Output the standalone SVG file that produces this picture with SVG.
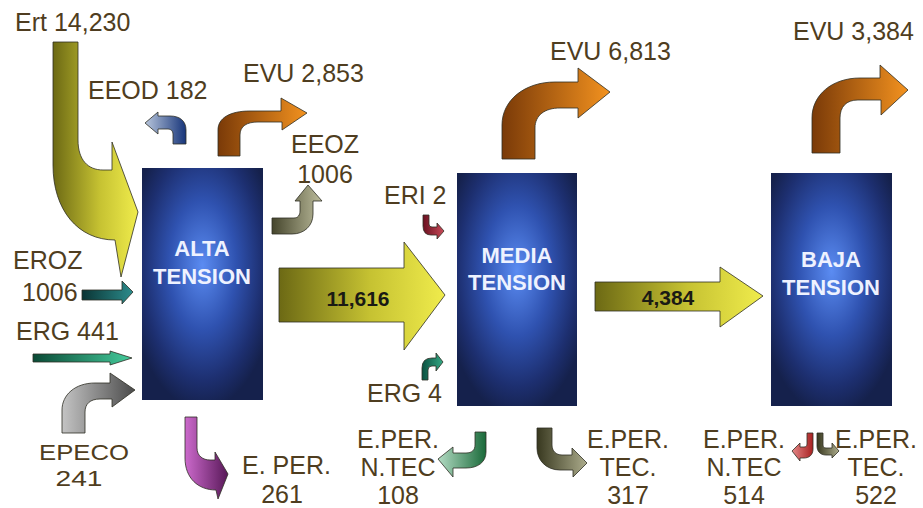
<svg xmlns="http://www.w3.org/2000/svg" width="923" height="508" viewBox="0 0 923 508">
<style>
.lbl{font-family:"Liberation Sans",Arial,sans-serif;font-size:25px;fill:#4f3d20}
.sm{font-size:22px}
.mid{text-anchor:middle}
.box-t{font-family:"Liberation Sans",Arial,sans-serif;font-size:22px;font-weight:bold;fill:#eef2ff;text-anchor:middle}
.val{font-family:"Liberation Sans",Arial,sans-serif;font-size:21px;font-weight:bold;fill:#1a1a14;text-anchor:middle}
.arr{stroke:#2e2e24;stroke-width:0.8;stroke-linejoin:miter}
</style>
<defs>
<radialGradient id="gBox" cx="0.5" cy="0.42" r="0.62" fx="0.5" fy="0.42">
<stop offset="0" stop-color="#5b8cf2"/>
<stop offset="0.45" stop-color="#2f52b0"/>
<stop offset="0.8" stop-color="#1d2f70"/>
<stop offset="1" stop-color="#15214c"/>
</radialGradient>
<linearGradient id="gYel" x1="0" y1="0" x2="1" y2="0">
<stop offset="0" stop-color="#6c6914"/><stop offset="0.55" stop-color="#c6c232"/><stop offset="1" stop-color="#f0ec4c"/>
</linearGradient>
<linearGradient id="gOra" x1="0" y1="0" x2="1" y2="0">
<stop offset="0" stop-color="#7a3a08"/><stop offset="1" stop-color="#f3921f"/>
</linearGradient>
<linearGradient id="gBlu" x1="1" y1="0" x2="0" y2="0">
<stop offset="0" stop-color="#17357a"/><stop offset="1" stop-color="#b8c6dc"/>
</linearGradient>
<linearGradient id="gOli" x1="0" y1="0" x2="1" y2="0">
<stop offset="0" stop-color="#45452c"/><stop offset="1" stop-color="#bcbc9c"/>
</linearGradient>
<linearGradient id="gRed" x1="0" y1="0" x2="1" y2="0">
<stop offset="0" stop-color="#6a1020"/><stop offset="1" stop-color="#c84a58"/>
</linearGradient>
<linearGradient id="gGrn" x1="0" y1="0" x2="1" y2="0">
<stop offset="0" stop-color="#0a5040"/><stop offset="1" stop-color="#34a884"/>
</linearGradient>
<linearGradient id="gTea" x1="0" y1="0" x2="1" y2="0">
<stop offset="0" stop-color="#0a3434"/><stop offset="1" stop-color="#2c8c8c"/>
</linearGradient>
<linearGradient id="gGr2" x1="0" y1="0" x2="1" y2="0">
<stop offset="0" stop-color="#0a4a36"/><stop offset="1" stop-color="#44cc9c"/>
</linearGradient>
<linearGradient id="gGry" x1="0" y1="0" x2="1" y2="0">
<stop offset="0" stop-color="#c4c4c4"/><stop offset="1" stop-color="#4a4a4a"/>
</linearGradient>
<linearGradient id="gPur" x1="0" y1="0" x2="1" y2="0">
<stop offset="0" stop-color="#cc6acc"/><stop offset="1" stop-color="#581858"/>
</linearGradient>
<linearGradient id="gMnt" x1="0" y1="0" x2="1" y2="0">
<stop offset="0" stop-color="#b4dcc4"/><stop offset="1" stop-color="#1a6a3a"/>
</linearGradient>
<linearGradient id="gOl2" x1="0" y1="0" x2="1" y2="0">
<stop offset="0" stop-color="#38381f"/><stop offset="1" stop-color="#acac8c"/>
</linearGradient>
<linearGradient id="gRd2" x1="0" y1="0" x2="1" y2="0">
<stop offset="0" stop-color="#e48888"/><stop offset="1" stop-color="#a82020"/>
</linearGradient>
</defs>

<g id="alta-tension">
<rect x="142" y="168" width="121" height="232" fill="url(#gBox)"/>
<text class="box-t" x="202" y="256">ALTA</text>
<text class="box-t" x="202" y="284">TENSION</text>
</g>
<g id="media-tension">
<rect x="457" y="173" width="120" height="233" fill="url(#gBox)"/>
<text class="box-t" x="517" y="263">MEDIA</text>
<text class="box-t" x="517" y="290">TENSION</text>
</g>
<g id="baja-tension">
<rect x="771" y="173" width="121" height="233" fill="url(#gBox)"/>
<text class="box-t" x="831" y="267">BAJA</text>
<text class="box-t" x="831" y="295">TENSION</text>
</g>

<g id="connectors">
<!-- Ert 14,230 -->
<path class="arr" fill="url(#gYel)" d="M53,42 L78,42 L78,140 C78,160 88,170 103,170 L112,170 L112,142 L138,212 L121,277 L115,240 C78,240 53,210 53,165 Z"/>
<text class="lbl" x="15" y="31">Ert 14,230</text>
<!-- EEOD 182 -->
<path class="arr" fill="url(#gBlu)" d="M173,144 L186,144 L186,130 C186,121 180,116 170,116 L158,116 L158,112 L145,123 L158,134 L158,129 L168,129 C171,129 173,131 173,134 Z"/>
<text class="lbl" x="88" y="99">EEOD 182</text>
<!-- EVU 2,853 -->
<path class="arr" fill="url(#gOra)" d="M218,156 L240,156 L240,135 C240,126 247,122 258,122 L282,122 L282,130 L307,113 L281,98 L281,111 L250,111 C230,111 218,118 218,130 Z"/>
<text class="lbl" x="243" y="82">EVU 2,853</text>
<!-- EEOZ 1006 -->
<path class="arr" fill="url(#gOli)" d="M272,218 L294,218 C298,218 300,215 300,211 L300,201 L295,201 L308,185 L322,201 L313,201 L313,214 C313,226 304,234 292,234 L272,234 Z"/>
<text class="lbl mid" x="325" y="153">EEOZ</text>
<text class="lbl mid" x="325" y="183">1006</text>
<!-- EROZ 1006 -->
<path class="arr" fill="url(#gTea)" d="M82,290 L122,290 L122,281 L133,292 L122,304 L122,300 L82,300 Z"/>
<text class="lbl" x="13" y="269">EROZ</text>
<text class="lbl" x="22" y="301">1006</text>
<!-- ERG 441 -->
<path class="arr" fill="url(#gGr2)" d="M33,354 L110,354 L110,351 L132,358 L110,365 L110,362 L33,362 Z"/>
<text class="lbl" x="16" y="340">ERG 441</text>
<!-- EPECO 241 -->
<path class="arr" fill="url(#gGry)" d="M62,433 L85,433 L85,412 C85,404 90,399 100,399 L112,399 L112,407 L135,390 L110,373 L110,383 L95,383 C75,383 62,395 62,410 Z"/>
<text class="lbl sm mid" x="84" y="460" textLength="90" lengthAdjust="spacingAndGlyphs">EPECO</text>
<text class="lbl sm mid" x="79" y="486" textLength="47" lengthAdjust="spacingAndGlyphs">241</text>
<!-- E. PER. 261 -->
<path class="arr" fill="url(#gPur)" d="M185,417 L197,417 L197,448 C197,456 203,460 210,460 L215,460 L215,452 L228,474 L218,499 L216,490 C198,490 185,478 185,458 Z"/>
<text class="lbl" x="242" y="474">E. PER.</text>
<text class="lbl mid" x="282" y="503">261</text>
<!-- 11,616 -->
<path class="arr" fill="url(#gYel)" d="M279,268 L404,268 L404,242 L445,295 L404,350 L404,322 L279,322 Z"/>
<text class="val" x="358" y="306">11,616</text>
<!-- ERI 2 -->
<path class="arr" fill="url(#gRed)" d="M423,215 L429,215 L429,224 Q429,227 432,227 L437,227 L437,223 L444,231 L437,239 L437,235 L431,235 Q423,235 423,226 Z"/>
<text class="lbl" x="384" y="204">ERI 2</text>
<!-- ERG 4 -->
<path class="arr" fill="url(#gGrn)" d="M422,380 L428,380 L428,370 Q428,366 432,366 L436,366 L436,371 L443,362 L436,353 L436,358 L432,358 Q422,358 422,368 Z"/>
<text class="lbl" x="367" y="402">ERG 4</text>
<!-- E.PER. N.TEC 108 -->
<path class="arr" fill="url(#gMnt)" d="M475,432 L486,432 L486,452 C486,462 478,468 466,468 L453,468 L453,477 L438,459 L453,447 L453,453 L466,453 C472,453 475,450 475,445 Z"/>
<text class="lbl mid" x="398" y="448">E.PER.</text>
<text class="lbl mid" x="398" y="476">N.TEC</text>
<text class="lbl mid" x="398" y="504">108</text>
<!-- EVU 6,813 -->
<path class="arr" fill="url(#gOra)" d="M502,159 L535,159 L535,128 C535,115 545,108 560,108 L578,108 L578,118 L610,92 L578,68 L578,82 L555,82 C525,82 502,100 502,125 Z"/>
<text class="lbl" x="550" y="60">EVU 6,813</text>
<!-- E.PER. TEC. 317 -->
<path class="arr" fill="url(#gOl2)" d="M537,428 L552,428 L552,445 C552,451 556,455 562,455 L572,455 L572,448 L587,463 L573,477 L573,470 L560,470 C546,470 537,460 537,448 Z"/>
<text class="lbl mid" x="628" y="448">E.PER.</text>
<text class="lbl mid" x="628" y="476">TEC.</text>
<text class="lbl mid" x="628" y="504">317</text>
<!-- 4,384 -->
<path class="arr" fill="url(#gYel)" d="M595,282 L720,282 L720,267 L763,296 L720,327 L720,311 L595,311 Z"/>
<text class="val" x="668" y="305">4,384</text>
<!-- EVU 3,384 -->
<path class="arr" fill="url(#gOra)" d="M812,153 L840,153 L840,118 C840,107 846,100 858,100 L881,100 L881,115 L908,90 L880,65 L880,78 L860,78 C832,78 812,95 812,118 Z"/>
<text class="lbl" x="793" y="40">EVU 3,384</text>
<!-- E.PER. N.TEC 514 -->
<path class="arr" fill="url(#gRd2)" d="M807,433 L813,433 L813,449 C813,455 809,458 804,458 L800,458 L800,461 L792,451 L800,443 L800,447 L804,447 C806,447 807,446 807,444 Z"/>
<text class="lbl mid" x="744" y="448">E.PER.</text>
<text class="lbl mid" x="744" y="476">N.TEC</text>
<text class="lbl mid" x="744" y="504">514</text>
<!-- E.PER. TEC. 522 -->
<path class="arr" fill="url(#gOl2)" d="M817,433 L823,433 L823,445 C823,447 824,448 826,448 L832,448 L832,443 L839,451 L832,458 L832,455 L826,455 C820,455 817,451 817,446 Z"/>
<text class="lbl mid" x="876" y="448">E.PER.</text>
<text class="lbl mid" x="876" y="476">TEC.</text>
<text class="lbl mid" x="876" y="504">522</text>
</g>
</svg>
